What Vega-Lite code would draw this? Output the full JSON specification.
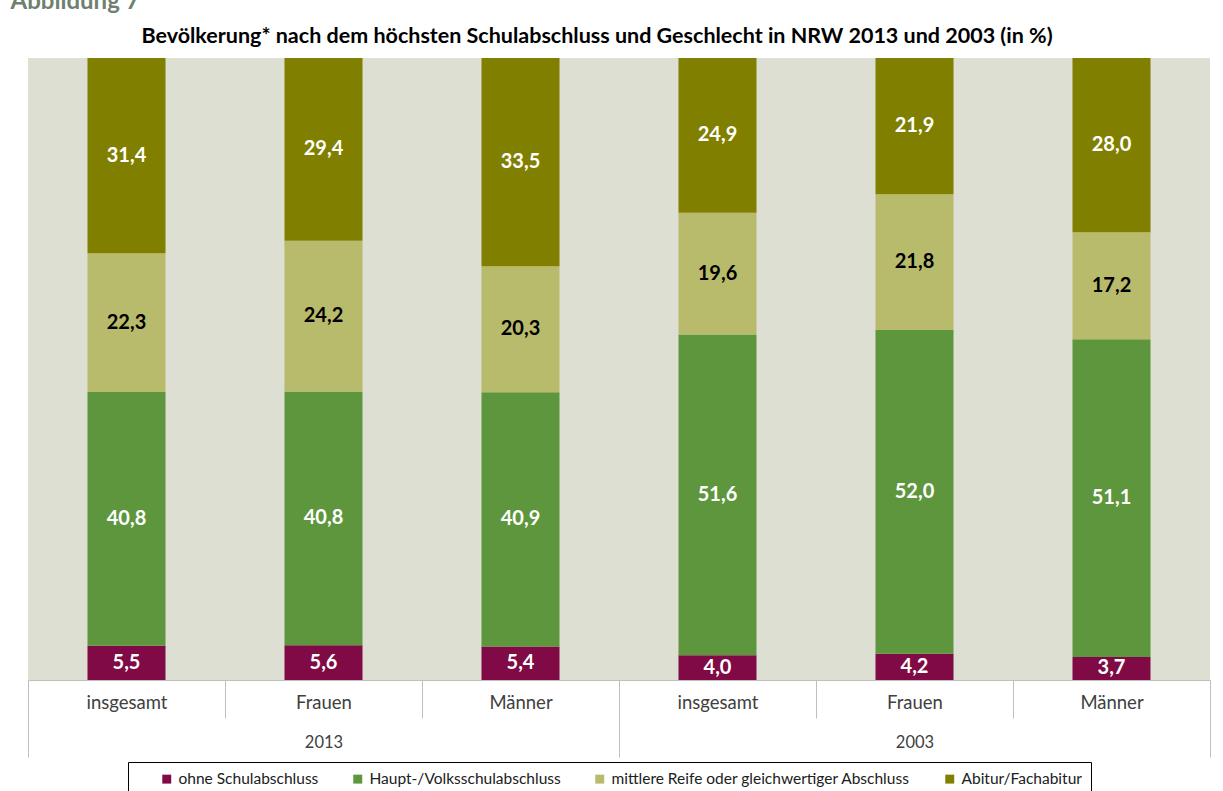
{
  "$schema": "https://vega.github.io/schema/vega-lite/v6.json",
  "width": 1182,
  "height": 622,
  "autosize": {"type": "none"},
  "padding": {"left": 28, "top": 58, "right": 13, "bottom": 111},
  "background": "white",
  "title": {
    "text": "Bevölkerung* nach dem höchsten Schulabschluss und Geschlecht in NRW 2013 und 2003 (in %)",
    "font": "Lato",
    "fontSize": 21.5,
    "fontWeight": "bold",
    "color": "#000000",
    "anchor": "middle",
    "frame": "group",
    "dx": -22,
    "dy": 76,
    "offset": 18
  },
  "data": {
    "values": [
      {"key": "2013|insgesamt", "year": "2013", "cat": "ohne Schulabschluss", "order": 1, "value": 5.5},
      {"key": "2013|insgesamt", "year": "2013", "cat": "Haupt-/Volksschulabschluss", "order": 2, "value": 40.8},
      {"key": "2013|insgesamt", "year": "2013", "cat": "mittlere Reife oder gleichwertiger Abschluss", "order": 3, "value": 22.3},
      {"key": "2013|insgesamt", "year": "2013", "cat": "Abitur/Fachabitur", "order": 4, "value": 31.4},
      {"key": "2013|Frauen", "year": "2013", "cat": "ohne Schulabschluss", "order": 1, "value": 5.6},
      {"key": "2013|Frauen", "year": "2013", "cat": "Haupt-/Volksschulabschluss", "order": 2, "value": 40.8},
      {"key": "2013|Frauen", "year": "2013", "cat": "mittlere Reife oder gleichwertiger Abschluss", "order": 3, "value": 24.2},
      {"key": "2013|Frauen", "year": "2013", "cat": "Abitur/Fachabitur", "order": 4, "value": 29.4},
      {"key": "2013|Männer", "year": "2013", "cat": "ohne Schulabschluss", "order": 1, "value": 5.4},
      {"key": "2013|Männer", "year": "2013", "cat": "Haupt-/Volksschulabschluss", "order": 2, "value": 40.9},
      {"key": "2013|Männer", "year": "2013", "cat": "mittlere Reife oder gleichwertiger Abschluss", "order": 3, "value": 20.3},
      {"key": "2013|Männer", "year": "2013", "cat": "Abitur/Fachabitur", "order": 4, "value": 33.5},
      {"key": "2003|insgesamt", "year": "2003", "cat": "ohne Schulabschluss", "order": 1, "value": 4.0},
      {"key": "2003|insgesamt", "year": "2003", "cat": "Haupt-/Volksschulabschluss", "order": 2, "value": 51.6},
      {"key": "2003|insgesamt", "year": "2003", "cat": "mittlere Reife oder gleichwertiger Abschluss", "order": 3, "value": 19.6},
      {"key": "2003|insgesamt", "year": "2003", "cat": "Abitur/Fachabitur", "order": 4, "value": 24.9},
      {"key": "2003|Frauen", "year": "2003", "cat": "ohne Schulabschluss", "order": 1, "value": 4.2},
      {"key": "2003|Frauen", "year": "2003", "cat": "Haupt-/Volksschulabschluss", "order": 2, "value": 52.0},
      {"key": "2003|Frauen", "year": "2003", "cat": "mittlere Reife oder gleichwertiger Abschluss", "order": 3, "value": 21.8},
      {"key": "2003|Frauen", "year": "2003", "cat": "Abitur/Fachabitur", "order": 4, "value": 21.9},
      {"key": "2003|Männer", "year": "2003", "cat": "ohne Schulabschluss", "order": 1, "value": 3.7},
      {"key": "2003|Männer", "year": "2003", "cat": "Haupt-/Volksschulabschluss", "order": 2, "value": 51.1},
      {"key": "2003|Männer", "year": "2003", "cat": "mittlere Reife oder gleichwertiger Abschluss", "order": 3, "value": 17.2},
      {"key": "2003|Männer", "year": "2003", "cat": "Abitur/Fachabitur", "order": 4, "value": 28.0}
    ]
  },
  "layer": [
    {
      "encoding": {
        "x": {
          "field": "key",
          "type": "nominal",
          "sort": ["2013|insgesamt", "2013|Frauen", "2013|Männer", "2003|insgesamt", "2003|Frauen", "2003|Männer"],
          "scale": {"paddingInner": 0, "paddingOuter": 0},
          "axis": {
            "title": null,
            "orient": "bottom",
            "labelExpr": "split(datum.value, '|')[1]",
            "labelAngle": 0,
            "labelFont": "Lato",
            "labelFontSize": 18.5,
            "labelColor": "#404040",
            "tickBand": "extent",
            "tickSize": 38,
            "tickColor": "#BFBFBF",
            "domainColor": "#BFBFBF",
            "labelPadding": -25,
            "grid": false
          }
        }
      },
      "layer": [
        {
          "mark": {"type": "bar", "width": {"band": 0.396}},
          "encoding": {
            "y": {
              "field": "value",
              "type": "quantitative",
              "stack": "normalize",
              "scale": {"domain": [0, 1], "nice": false},
              "axis": {
                "title": "Abbildung 7",
                "labels": false,
                "ticks": false,
                "domain": false,
                "grid": false,
                "titleAngle": 0,
                "titleX": -18,
                "titleY": -50,
                "titleAlign": "left",
                "titleBaseline": "alphabetic",
                "titleFont": "Lato",
                "titleFontSize": 24,
                "titleFontWeight": "bold",
                "titleColor": "#6F806F"
              }
            },
            "order": {"field": "order", "type": "quantitative"},
            "color": {
              "field": "cat",
              "type": "nominal",
              "scale": {
                "domain": ["ohne Schulabschluss", "Haupt-/Volksschulabschluss", "mittlere Reife oder gleichwertiger Abschluss", "Abitur/Fachabitur"],
                "range": ["#7F0A45", "#5E963D", "#B8BB6B", "#807F00"]
              },
              "legend": {
                "title": null,
                "orient": "none",
                "legendX": 100,
                "legendY": 704,
                "direction": "horizontal",
                "symbolType": "square",
                "symbolSize": 80,
                "symbolStrokeWidth": 0,
                "symbolOffset": 22,
                "labelFont": "Lato",
                "labelFontSize": 15.5,
                "labelColor": "#202020",
                "labelLimit": 500,
                "columnPadding": 9,
                "strokeColor": "#000000",
                "fillColor": "white",
                "padding": 9
              }
            }
          }
        },
        {
          "transform": [
            {"stack": "value", "groupby": ["key"], "sort": [{"field": "order"}], "as": ["v0", "v1"], "offset": "normalize"},
            {"calculate": "(datum.v0 + datum.v1) / 2", "as": "mid"}
          ],
          "mark": {"type": "text", "font": "Lato", "fontSize": 20, "fontWeight": "bold", "baseline": "middle"},
          "encoding": {
            "y": {"field": "mid", "type": "quantitative"},
            "text": {"field": "value", "type": "quantitative", "format": ".1f"},
            "color": {
              "condition": {"test": "datum.order === 3", "value": "#000000"},
              "value": "#FFFFFF"
            }
          }
        }
      ]
    },
    {
      "mark": {"type": "point", "opacity": 0},
      "encoding": {
        "x": {
          "field": "year",
          "type": "nominal",
          "sort": ["2013", "2003"],
          "scale": {"paddingInner": 0, "paddingOuter": 0},
          "axis": {
            "title": null,
            "orient": "bottom",
            "offset": 38,
            "domain": false,
            "labelAngle": 0,
            "labelFont": "Lato",
            "labelFontSize": 16.5,
            "labelColor": "#404040",
            "tickBand": "extent",
            "tickSize": 39,
            "tickColor": "#BFBFBF",
            "labelPadding": -23,
            "grid": false
          }
        }
      }
    }
  ],
  "resolve": {"scale": {"x": "independent"}, "axis": {"x": "independent"}},
  "config": {
    "view": {"fill": "#DEDFD3", "stroke": null},
    "locale": {"number": {"decimal": ",", "thousands": ".", "grouping": [3], "currency": ["", " €"]}}
  }
}
